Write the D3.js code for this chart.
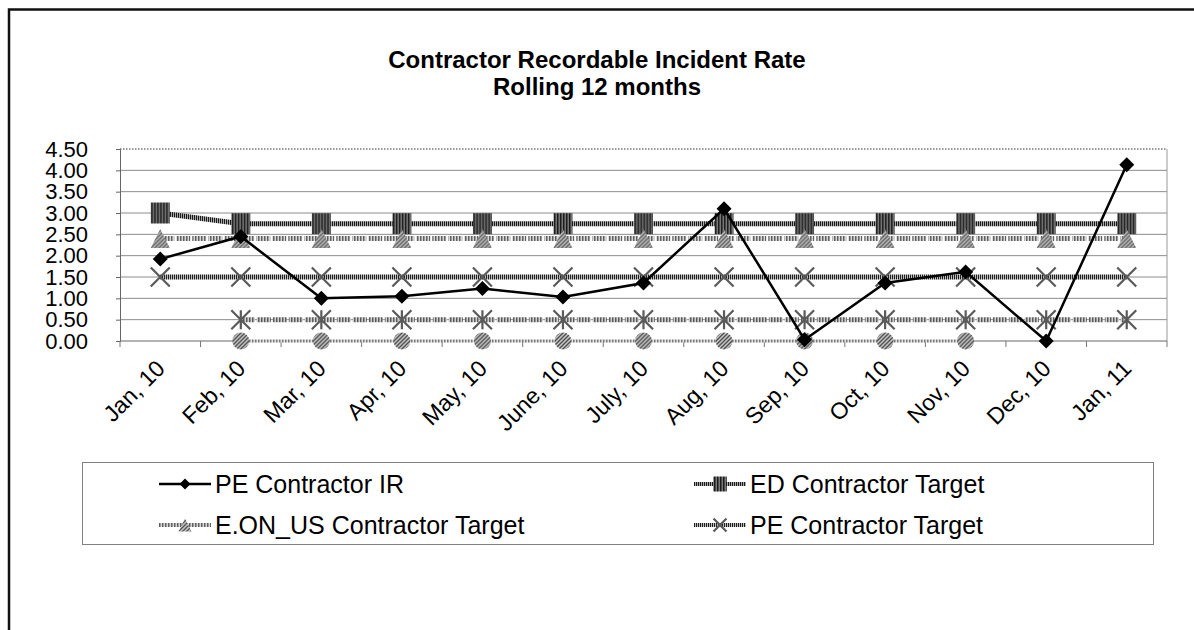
<!DOCTYPE html>
<html lang="en">
<head>
<meta charset="UTF-8">
<title>Contractor Recordable Incident Rate</title>
<script src="https://d3js.org/d3.v7.min.js"></script>
<style>
  body { margin: 0; background: #fff; font-family: "Liberation Sans", Arial, sans-serif; }
  svg { display: block; }
</style>
</head>
<body>
<div id="chart"></div>
<script>
  // data
  var months = ["Jan, 10","Feb, 10","Mar, 10","Apr, 10","May, 10","June, 10","July, 10",
                "Aug, 10","Sep, 10","Oct, 10","Nov, 10","Dec, 10","Jan, 11"]
  var peIR     = [1.92, 2.45, 1.00, 1.05, 1.23, 1.03, 1.36, 3.10, 0.03, 1.36, 1.62, 0.00, 4.13]
  var edTarget = [3.00, 2.75, 2.75, 2.75, 2.75, 2.75, 2.75, 2.75, 2.75, 2.75, 2.75, 2.75, 2.75]
  var eonTarget= [2.40, 2.40, 2.40, 2.40, 2.40, 2.40, 2.40, 2.40, 2.40, 2.40, 2.40, 2.40, 2.40]
  var peTarget = [1.50, 1.50, 1.50, 1.50, 1.50, 1.50, 1.50, 1.50, 1.50, 1.50, 1.50, 1.50, 1.50]
  var halfLine = [null, 0.50, 0.50, 0.50, 0.50, 0.50, 0.50, 0.50, 0.50, 0.50, 0.50, 0.50, 0.50]
  var zeroLine = [null, 0.00, 0.00, 0.00, 0.00, 0.00, 0.00, 0.00, 0.00, 0.00, 0.00, null, null]
  var yTicks = [0, 0.5, 1, 1.5, 2, 2.5, 3, 3.5, 4, 4.5]

  var width = 1194, height = 630
  var plotLeft = 120, plotRight = 1167, plotTop = 149, plotBottom = 341

  var svg = d3.select("#chart").append("svg")
    .attr("width", width).attr("height", height)

  // hatch patterns (the chart is greyscale with striped fills)
  var defs = svg.append("defs")
  function stripes(id, bg, fg, w) {
    var p = defs.append("pattern").attr("id", id)
      .attr("patternUnits", "userSpaceOnUse").attr("width", w).attr("height", w)
    p.append("rect").attr("width", w).attr("height", w).attr("fill", bg)
    p.append("rect").attr("width", w / 2).attr("height", w).attr("fill", fg)
  }
  function diag(id, bg, fg) {
    var p = defs.append("pattern").attr("id", id)
      .attr("patternUnits", "userSpaceOnUse").attr("width", 4).attr("height", 4)
    p.append("rect").attr("width", 4).attr("height", 4).attr("fill", bg)
    p.append("path").attr("d", "M-1,5 L5,-1 M3,5 L5,3 M-1,1 L1,-1").attr("stroke", fg).attr("stroke-width", 1.3)
  }
  stripes("edLine", "#a8a8a8", "#1a1a1a", 2)
  stripes("edMark", "#7a7a7a", "#1a1a1a", 3)
  stripes("eonLine", "#d8d8d8", "#606060", 3)
  stripes("peLine", "#bdbdbd", "#1e1e1e", 2)
  stripes("halfLn", "#d0d0d0", "#5a5a5a", 3)
  stripes("zeroLn", "#e0e0e0", "#7a7a7a", 3)
  diag("eonMark", "#c4c4c4", "#555")
  diag("zeroMark", "#c8c8c8", "#4a4a4a")

  // outer frame (only left and top visible)
  svg.append("path").attr("d", "M9,630 V9.5 H1194")
    .attr("fill", "none").attr("stroke", "#111").attr("stroke-width", 2.5)

  var x = d3.scaleBand().domain(months).range([plotLeft, plotRight]).padding(0)
  var y = d3.scaleLinear().domain([0, 4.5]).range([plotBottom, plotTop])
  var cx = function(m) { return x(m) + x.bandwidth() / 2 }

  // gridlines
  svg.append("g").selectAll("line").data(yTicks.filter(function(t){ return t > 0 && t < 4.5 }))
    .enter().append("line")
    .attr("x1", plotLeft).attr("x2", plotRight)
    .attr("y1", function(d){ return y(d) }).attr("y2", function(d){ return y(d) })
    .attr("stroke", "#8c8c8c").attr("stroke-width", 1)

  // plot border: dotted top, grey right
  svg.append("line").attr("x1", plotLeft).attr("x2", plotRight).attr("y1", y(4.5)).attr("y2", y(4.5))
    .attr("stroke", "#777").attr("stroke-width", 1.5).attr("stroke-dasharray", "1.5,1.5")
  svg.append("line").attr("x1", plotRight).attr("x2", plotRight).attr("y1", plotTop).attr("y2", plotBottom)
    .attr("stroke", "#999").attr("stroke-width", 1)

  // y axis
  var yAxis = d3.axisLeft(y).tickValues(yTicks).tickFormat(d3.format(".2f")).tickSize(4).tickPadding(28)
  var gy = svg.append("g").attr("transform", "translate(" + plotLeft + ",0)").call(yAxis)
  gy.select(".domain").attr("stroke", "#666")
  gy.selectAll(".tick line").attr("stroke", "#666")
  gy.selectAll("text").attr("font-size", 22).attr("fill", "#000")
    .attr("font-family", "'Liberation Sans', Arial, sans-serif")

  // x axis: ticks on the category boundaries
  var gx = svg.append("g").attr("transform", "translate(0," + plotBottom + ")")
  gx.append("line").attr("x1", plotLeft).attr("x2", plotRight).attr("stroke", "#666").attr("stroke-width", 1)
  gx.selectAll(".tk").data(months.concat(["end"])).enter().append("line")
    .attr("x1", function(d, i){ return i < months.length ? x(d) : plotRight })
    .attr("x2", function(d, i){ return i < months.length ? x(d) : plotRight })
    .attr("y1", 0).attr("y2", 6).attr("stroke", "#777")
  gx.selectAll(".lbl").data(months).enter().append("text")
    .attr("transform", function(d){ return "translate(" + (cx(d) + 6) + ",29) rotate(-45)" })
    .attr("text-anchor", "end")
    .attr("font-size", 23)
    .text(function(d){ return d })

  // series lines
  function lineOf(vals) {
    return d3.line()
      .defined(function(d){ return d.v != null })
      .x(function(d){ return cx(d.m) })
      .y(function(d){ return y(d.v) })(months.map(function(m, i){ return { m: m, v: vals[i] } }))
  }
  function pts(vals) {
    return months.map(function(m, i){ return { m: m, v: vals[i] } }).filter(function(d){ return d.v != null })
  }

  var g = svg.append("g")
  g.append("path").attr("d", lineOf(zeroLine)).attr("fill", "none")
    .attr("stroke", "url(#zeroLn)").attr("stroke-width", 3)
  g.append("path").attr("d", lineOf(halfLine)).attr("fill", "none")
    .attr("stroke", "url(#halfLn)").attr("stroke-width", 5).attr("stroke-dasharray", "14,2")
  g.append("path").attr("d", lineOf(peTarget)).attr("fill", "none")
    .attr("stroke", "url(#peLine)").attr("stroke-width", 5)
  g.append("path").attr("d", lineOf(eonTarget)).attr("fill", "none")
    .attr("stroke", "url(#eonLine)").attr("stroke-width", 5).attr("stroke-dasharray", "14,2")
  g.append("path").attr("d", lineOf(edTarget)).attr("fill", "none")
    .attr("stroke", "url(#edLine)").attr("stroke-width", 5)

  // marker shapes
  function square(sel, s) {
    sel.append("rect").attr("x", -s * 0.45).attr("y", -s / 2).attr("width", s * 0.9).attr("height", s)
      .attr("fill", "url(#edMark)")
  }
  function triangle(sel, s) {
    sel.append("path").attr("d", "M0," + (-s / 2) + " L" + (s / 2) + "," + (s / 2) + " L" + (-s / 2) + "," + (s / 2) + "Z")
      .attr("fill", "url(#eonMark)")
  }
  function cross(sel, s, star) {
    var h = s / 2
    sel.append("path").attr("d", "M" + (-h) + "," + (-h) + "L" + h + "," + h + "M" + h + "," + (-h) + "L" + (-h) + "," + h
      + (star ? "M0," + (-h) + "V" + h : ""))
      .attr("stroke", "#5a5a5a").attr("stroke-width", 2.2).attr("fill", "none")
  }
  function circle(sel, s) {
    sel.append("circle").attr("r", s / 2).attr("fill", "url(#zeroMark)")
  }
  function diamond(sel, s) {
    var h = s / 2
    sel.append("path").attr("d", "M0," + (-h) + "L" + h + ",0L0," + h + "L" + (-h) + ",0Z").attr("fill", "#000")
  }
  function markers(vals, fn, s, star) {
    g.append("g").selectAll("g").data(pts(vals)).enter().append("g")
      .attr("transform", function(d){ return "translate(" + cx(d.m) + "," + y(d.v) + ")" })
      .each(function(){ fn(d3.select(this), s, star) })
  }
  markers(zeroLine, circle, 17)
  markers(halfLine, cross, 19, true)
  markers(peTarget, cross, 19)
  markers(edTarget, square, 21)
  markers(eonTarget, triangle, 19)

  // PE Contractor IR on top
  g.append("path").attr("d", lineOf(peIR)).attr("fill", "none")
    .attr("stroke", "#000").attr("stroke-width", 2.5)
  markers(peIR, diamond, 15)

  // title
  svg.append("text").attr("x", 597).attr("y", 68).attr("text-anchor", "middle")
    .attr("font-size", 24).attr("font-weight", "bold").text("Contractor Recordable Incident Rate")
  svg.append("text").attr("x", 597).attr("y", 95).attr("text-anchor", "middle")
    .attr("font-size", 24).attr("font-weight", "bold").text("Rolling 12 months")

  // legend
  var legend = svg.append("g")
  legend.append("rect").attr("x", 82.5).attr("y", 462.5).attr("width", 1071).attr("height", 82)
    .attr("fill", "#fff").attr("stroke", "#808080").attr("stroke-width", 1)
  var items = [
    { name: "PE Contractor IR", x: 159, y: 484, stroke: "#000", w: 2.5, mark: diamond, s: 11 },
    { name: "ED Contractor Target", x: 694, y: 484, stroke: "url(#edLine)", w: 4, mark: square, s: 15 },
    { name: "E.ON_US Contractor Target", x: 159, y: 525, stroke: "url(#eonLine)", w: 4, mark: triangle, s: 13 },
    { name: "PE Contractor Target", x: 694, y: 525, stroke: "url(#peLine)", w: 4, mark: cross, s: 13 }
  ]
  var li = legend.selectAll(".item").data(items).enter().append("g")
    .attr("transform", function(d){ return "translate(" + d.x + "," + d.y + ")" })
  li.append("line").attr("x1", 0).attr("x2", 52)
    .attr("stroke", function(d){ return d.stroke }).attr("stroke-width", function(d){ return d.w })
  li.each(function(d){
    var m = d3.select(this).append("g").attr("transform", "translate(26,0)")
    d.mark(m, d.s)
  })
  li.append("text").attr("x", 56).attr("dy", "0.36em").attr("font-size", 25)
    .text(function(d){ return d.name })
</script>
</body>
</html>
